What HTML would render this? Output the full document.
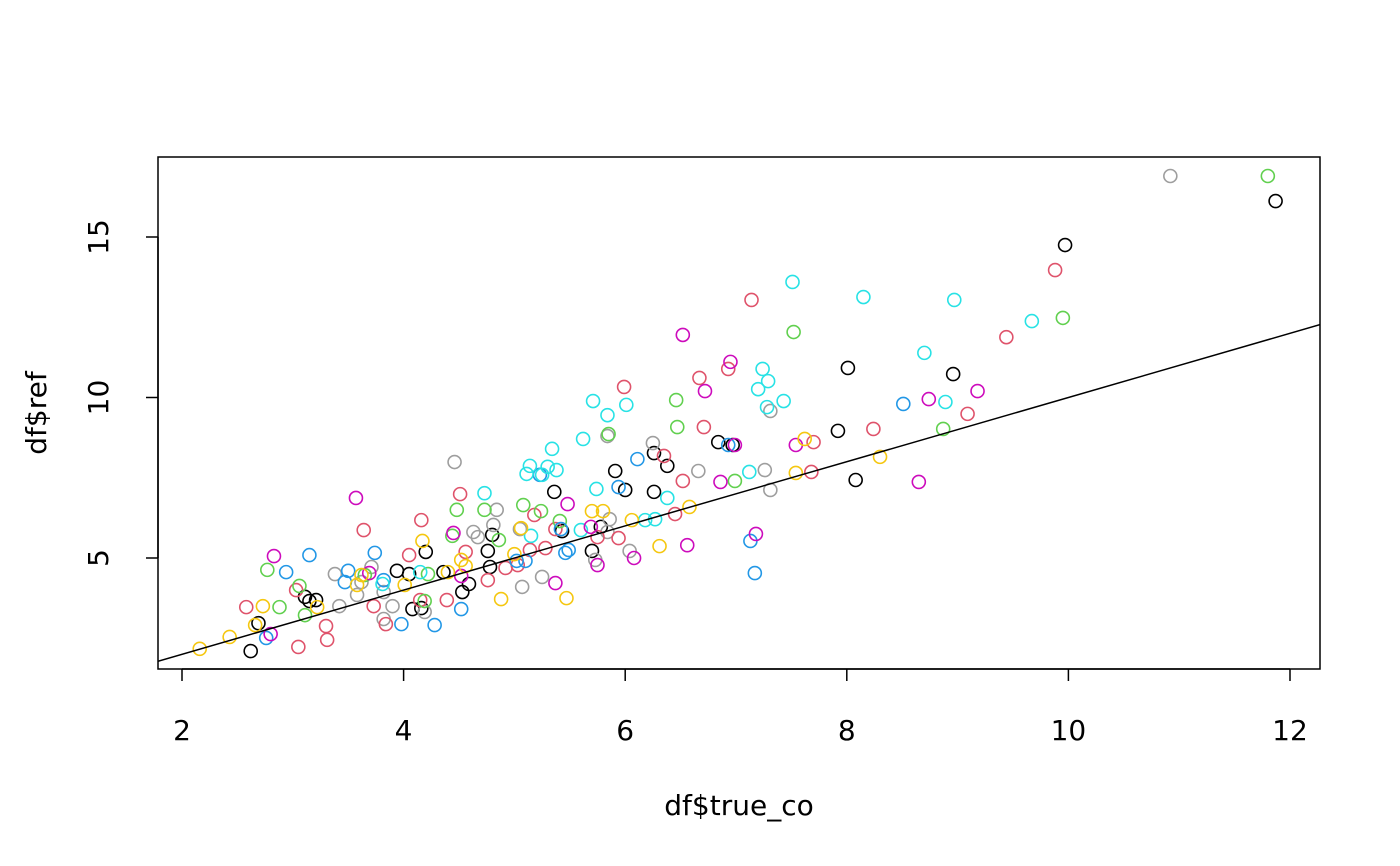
<!DOCTYPE html>
<html><head><meta charset="utf-8"><style>
html,body{margin:0;padding:0;background:#fff;}
svg{display:block;font-family:"DejaVu Sans","Liberation Sans",sans-serif;}
</style></head><body>
<svg id="chart" width="1400" height="866" viewBox="0 0 1400 866"></svg>
<script>
const xTicks=[2,4,6,8,10,12];
const yTicks=[5,10,15];
const seriesColors=["#000000","#9E9E9E","#DF536B","#61D04F","#2297E6","#28E2E5","#CD0BBC","#F5C710"];
const seriesNames=["black","gray","red","green","blue","cyan","magenta","yellow"];
const blackX=[2.62,2.69,3.11,3.15,3.21,3.94,4.05,4.08,4.16,4.20,4.36,4.53,4.59,4.76,4.80,4.78,5.36,5.43,5.70,5.78,5.91,6.00,6.26,6.26,6.38,6.84,6.97,7.92,8.01,8.08,8.96,9.97,11.87];
const blackY=[2.10,2.97,3.79,3.66,3.69,4.60,4.50,3.41,3.44,5.19,4.56,3.94,4.19,5.22,5.72,4.72,7.06,5.84,5.22,5.97,7.71,7.12,8.27,7.06,7.87,8.61,8.52,8.96,10.92,7.43,10.73,14.75,16.12];
const grayX=[3.38,3.42,3.58,3.62,3.71,3.82,3.90,3.82,4.19,4.46,4.63,4.67,4.81,4.84,5.07,5.25,5.05,5.84,5.86,6.04,6.25,6.66,7.26,7.31,7.31,5.84,5.73,10.92];
const grayY=[4.50,3.50,3.85,4.25,4.72,3.10,3.50,3.94,3.32,7.99,5.81,5.65,6.03,6.50,4.10,4.41,5.90,8.80,6.21,5.22,8.58,7.71,7.74,7.12,9.58,5.81,4.94,16.90];
const redX=[2.58,3.03,3.05,3.30,3.31,3.64,3.73,3.84,4.05,4.16,4.15,4.39,4.51,4.56,4.76,4.92,5.03,5.14,5.18,5.28,5.37,5.75,5.94,5.99,6.35,6.45,6.52,6.67,6.71,6.93,7.14,7.70,7.68,8.24,9.09,9.44,9.88];
const redY=[3.47,4.00,2.23,2.88,2.45,5.87,3.50,2.94,5.09,6.18,3.69,3.69,6.99,5.19,4.31,4.69,4.78,5.25,6.34,5.31,5.90,5.65,5.62,10.33,8.18,6.37,7.40,10.61,9.08,10.89,13.04,8.61,7.68,9.02,9.49,11.88,13.97];
const greenX=[2.77,2.88,3.11,3.06,3.65,4.19,4.22,4.44,4.48,4.73,4.86,5.08,5.24,5.41,5.85,6.46,6.47,6.99,7.52,8.87,9.95,11.80];
const greenY=[4.63,3.47,3.22,4.13,4.47,3.66,4.50,5.69,6.50,6.50,5.56,6.65,6.46,6.15,8.86,9.92,9.08,7.40,12.04,9.02,12.48,16.90];
const blueX=[2.94,3.15,2.76,3.47,3.50,3.74,3.82,3.98,4.28,4.52,5.02,5.10,5.23,5.42,5.46,5.49,5.94,6.11,6.93,7.13,7.17,8.51];
const blueY=[4.56,5.09,2.51,4.25,4.60,5.16,4.31,2.94,2.91,3.41,4.91,4.91,7.59,5.90,5.16,5.25,7.21,8.08,8.52,5.53,4.53,9.80];
const cyanX=[3.81,4.15,4.73,5.11,5.14,5.25,5.30,5.34,5.38,5.15,5.62,5.71,5.74,5.84,6.01,6.18,6.27,6.38,7.12,7.20,7.24,7.29,7.28,7.43,7.51,8.15,8.70,8.89,8.97,9.67,5.60];
const cyanY=[4.19,4.56,7.02,7.62,7.87,7.59,7.84,8.40,7.74,5.69,8.71,9.89,7.15,9.45,9.77,6.18,6.21,6.87,7.68,10.26,10.89,10.51,9.70,9.89,13.60,13.13,11.39,9.86,13.04,12.38,5.87];
const magentaX=[2.83,2.80,3.57,3.69,4.45,4.52,5.37,5.48,5.69,5.75,6.08,6.52,6.72,6.95,6.99,6.86,6.56,7.18,7.54,8.65,8.74,9.18];
const magentaY=[5.06,2.63,6.87,4.53,5.78,4.44,4.22,6.68,5.97,4.78,5.00,11.95,10.20,11.11,8.52,7.37,5.40,5.75,8.52,7.37,9.95,10.20];
const yellowX=[2.16,2.43,2.66,2.73,3.22,3.62,3.58,4.01,4.17,4.40,4.52,4.56,4.88,5.00,5.06,5.47,5.70,5.80,6.06,6.31,6.58,7.54,7.62,8.30];
const yellowY=[2.17,2.54,2.91,3.50,3.47,4.47,4.16,4.16,5.53,4.56,4.94,4.75,3.72,5.12,5.93,3.75,6.46,6.46,6.18,5.37,6.59,7.65,8.71,8.15];
const seriesX=[blackX,grayX,redX,greenX,blueX,cyanX,magentaX,yellowX];
const seriesY=[blackY,grayY,redY,greenY,blueY,cyanY,magentaY,yellowY];
const lineIntercept=0, lineSlope=1;

const L=158,R=1320,T=157,B=669;
function sx(v){return 182+(v-2)*110.8;}
function sy(v){return 558-(v-5)*32.1;}
const xMin=2+(L-182)/110.8, xMax=2+(R-182)/110.8;
const NS="http://www.w3.org/2000/svg";
const svg=document.getElementById('chart');
function mk(tag,attrs,parent){const e=document.createElementNS(NS,tag);for(const k in attrs)e.setAttribute(k,attrs[k]);(parent||svg).appendChild(e);return e;}

const pts=mk('g',{});


seriesX.forEach((xs,si)=>{
  const g=mk('g',{},pts);
  
  
  xs.forEach((xv,i)=>{
    const c=mk('circle',{cx:sx(xv),cy:sy(seriesY[si][i]),r:6.5,fill:'none',stroke:seriesColors[si],'stroke-width':1.6},g);
    
    
  });
});
// clip line to box
const clip=mk('clipPath',{id:'cp'});mk('rect',{x:L,y:T,width:R-L,height:B-T},clip);
const ln=mk('line',{x1:sx(xMin),y1:sy(lineIntercept+lineSlope*xMin),x2:sx(xMax),y2:sy(lineIntercept+lineSlope*xMax),stroke:'#000','stroke-width':1.5,'clip-path':'url(#cp)'});


const box=mk('rect',{x:L,y:T,width:R-L,height:B-T,fill:'none',stroke:'#000','stroke-width':1.5});



const xa=mk('g',{});


mk('line',{x1:sx(xTicks[0]),y1:B,x2:sx(xTicks[xTicks.length-1]),y2:B,stroke:'#000','stroke-width':1.5},xa);
xTicks.forEach(t=>{
  mk('line',{x1:sx(t),y1:B,x2:sx(t),y2:B+12,stroke:'#000','stroke-width':1.5},xa);
  const tx=mk('text',{x:sx(t),y:740,'text-anchor':'middle','font-size':28},xa);
  tx.textContent=t;
  
  
});
const ya=mk('g',{});


mk('line',{x1:L,y1:sy(yTicks[0]),x2:L,y2:sy(yTicks[yTicks.length-1]),stroke:'#000','stroke-width':1.5},ya);
yTicks.forEach(t=>{
  mk('line',{x1:L-12,y1:sy(t),x2:L,y2:sy(t),stroke:'#000','stroke-width':1.5},ya);
  const tx=mk('text',{x:0,y:0,'text-anchor':'middle','font-size':28,transform:`translate(108,${sy(t)}) rotate(-90)`},ya);
  tx.textContent=t;
  
  
});
const xt=mk('text',{x:739,y:815,'text-anchor':'middle','font-size':28});
xt.textContent='df$true_co';


const yt=mk('text',{x:0,y:0,'text-anchor':'middle','font-size':28,transform:'translate(46,413) rotate(-90)'});
yt.textContent='df$ref';


</script>
</body></html>
